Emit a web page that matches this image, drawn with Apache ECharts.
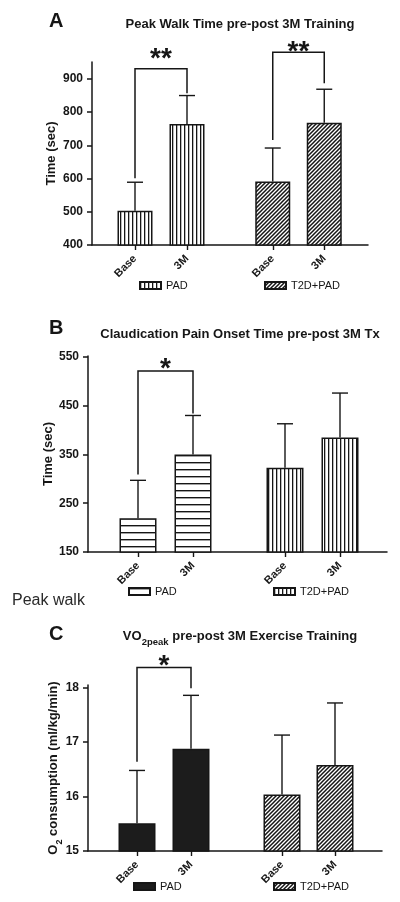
<!DOCTYPE html>
<html><head><meta charset="utf-8">
<script src="https://cdn.jsdelivr.net/npm/echarts@6/dist/echarts.min.js"></script>
<style>html,body{margin:0;padding:0;background:#fff}#c{width:400px;height:902px}</style>
</head><body><div id="c"></div>
<script>
// ---------- DATA ----------
const categories = ['Base', '3M'];
const groupNames = ['PAD', 'T2D+PAD'];

// Panel A: Peak walk time (sec)
const peakWalkPAD = [503, 764];
const peakWalkPADErr = [86, 86];
const peakWalkT2D = [591, 768];
const peakWalkT2DErr = [101, 101];
const peakWalkTicks = [400, 500, 600, 700, 800, 900];

// Panel B: Claudication pain onset time (sec)
const painOnsetPAD = [219, 350];
const painOnsetPADErr = [78, 80];
const painOnsetT2D = [323, 385];
const painOnsetT2DErr = [90, 91];
const painOnsetTicks = [150, 250, 350, 450, 550];

// Panel C: VO2peak (ml/kg/min)
const vo2PAD = [15.51, 16.88];
const vo2PADErr = [0.97, 0.98];
const vo2T2D = [16.04, 16.58];
const vo2T2DErr = [1.09, 1.14];
const vo2Ticks = [15, 16, 17, 18];

// Significance brackets: [bracket top, left leg end, right leg end, star y]
const bracketA_PAD = [931, 601, 857, 978];
const bracketA_T2D = [980, 716, 887, 999];
const bracketB_PAD = [521, 309, 434, 538];
const bracketC_PAD = [18.37, 16.64, 17.99, 18.5];

// ---------- PATTERNS ----------
function makePattern(w, h, draw) {
  const c = document.createElement('canvas');
  c.width = w; c.height = h;
  const g = c.getContext('2d');
  g.fillStyle = '#fff'; g.fillRect(0, 0, w, h);
  g.fillStyle = '#151515'; g.strokeStyle = '#151515';
  draw(g, w, h);
  return { image: c, repeat: 'repeat' };
}
const patVert = makePattern(4, 4, (g) => { g.fillRect(0, 0, 1.3, 4); });
const patHoriz = makePattern(7, 7, (g) => { g.fillRect(0, 0, 7, 1.4); });
const patDiag = makePattern(4, 4, (g) => {
  g.lineWidth = 1.5;
  g.beginPath();
  g.moveTo(-1, 5); g.lineTo(5, -1);
  g.moveTo(-3, 3); g.lineTo(3, -3);
  g.moveTo(1, 7); g.lineTo(7, 1);
  g.stroke();
});

// ---------- LAYOUT ----------
const FONT = "'Liberation Sans', Arial, Helvetica, sans-serif";
const INK = '#161616';

const panels = [
  {
    key: 'A', letter: 'A', title: 'Peak Walk Time pre-post 3M Training', titleTop: 18, letterTop: 11,
    main: { left: 92, width: 276, top: 62, height: 183 }, yMin: 400, yMax: 951, ticks: peakWalkTicks,
    yName: 'Time (sec)', nameGap: 34,
    pad: { left: 109, width: 104 }, t2d: { left: 247, width: 103 }, barW: 35,
    padData: peakWalkPAD, padErr: peakWalkPADErr, t2dData: peakWalkT2D, t2dErr: peakWalkT2DErr,
    padFill: patVert, t2dFill: patDiag,
    brackets: [{ grp: 'pad', b: bracketA_PAD, stars: '**' }, { grp: 't2d', b: bracketA_T2D, stars: '**' }],
    legendTop: 280, padLegLeft: 139, t2dLegLeft: 264
  },
  {
    key: 'B', letter: 'B', title: 'Claudication Pain Onset Time pre-post 3M Tx', titleTop: 328, letterTop: 318,
    main: { left: 88, width: 299, top: 356, height: 196 }, yMin: 150, yMax: 552, ticks: painOnsetTicks,
    yName: 'Time (sec)', nameGap: 33,
    pad: { left: 110.5, width: 110 }, t2d: { left: 257.5, width: 110 }, barW: 37,
    padData: painOnsetPAD, padErr: painOnsetPADErr, t2dData: painOnsetT2D, t2dErr: painOnsetT2DErr,
    padFill: patHoriz, t2dFill: patVert,
    brackets: [{ grp: 'pad', b: bracketB_PAD, stars: '*' }],
    legendTop: 586, padLegLeft: 128, t2dLegLeft: 273
  },
  {
    key: 'C', letter: 'C', title: null, titleTop: 629, letterTop: 624,
    main: { left: 88, width: 294, top: 685, height: 166 }, yMin: 15, yMax: 18.05, ticks: vo2Ticks,
    yName: '{a|O}{s|2}{a| consumption (ml/kg/min)}', nameGap: 24,
    pad: { left: 110, width: 108 }, t2d: { left: 255.5, width: 106 }, barW: 37,
    padData: vo2PAD, padErr: vo2PADErr, t2dData: vo2T2D, t2dErr: vo2T2DErr,
    padFill: '#1c1c1c', t2dFill: patDiag,
    brackets: [{ grp: 'pad', b: bracketC_PAD, stars: '*' }],
    legendTop: 881, padLegLeft: 133, t2dLegLeft: 273
  }
];

const grid = [], xAxis = [], yAxis = [], series = [], legend = [], title = [];

function errRender(params, api) {
  const x = api.value(0), m = api.value(1), e = api.value(2);
  const p0 = api.coord([x, m]);
  const p1 = api.coord([x, m + e]);
  const st = { stroke: INK, lineWidth: 1.4, fill: null };
  return {
    type: 'group', children: [
      { type: 'line', shape: { x1: p0[0], y1: p0[1], x2: p1[0], y2: p1[1] }, style: st },
      { type: 'line', shape: { x1: p1[0] - 8, y1: p1[1], x2: p1[0] + 8, y2: p1[1] }, style: st }
    ]
  };
}

function bracketRender(stars) {
  return function (params, api) {
    const top = api.value(0), l = api.value(1), r = api.value(2), sy = api.value(3);
    const pL = api.coord([0, l]), pLT = api.coord([0, top]);
    const pR = api.coord([1, r]), pRT = api.coord([1, top]);
    const ps = api.coord([0.5, sy]);
    return {
      type: 'group', children: [
        { type: 'polyline', shape: { points: [pL, pLT, pRT, pR] }, style: { stroke: INK, lineWidth: 1.5, fill: null } },
        { type: 'text', x: (pLT[0] + pRT[0]) / 2, y: ps[1] + 6,
          style: { text: stars, font: 'bold 28px ' + FONT, fill: INK, align: 'center', verticalAlign: 'middle' } }
      ]
    };
  };
}

panels.forEach((p, pi) => {
  const gMain = grid.length;
  grid.push({ left: p.main.left, width: p.main.width, top: p.main.top, height: p.main.height, outerBoundsMode: 'none', containLabel: false });
  const gPad = grid.length;
  grid.push({ left: p.pad.left, width: p.pad.width, top: p.main.top, height: p.main.height, outerBoundsMode: 'none', containLabel: false });
  const gT2d = grid.length;
  grid.push({ left: p.t2d.left, width: p.t2d.width, top: p.main.top, height: p.main.height, outerBoundsMode: 'none', containLabel: false });

  xAxis.push({
    gridIndex: gMain, type: 'category', data: [''],
    axisLine: { show: true, onZero: false, lineStyle: { color: INK, width: 1.5 } },
    axisTick: { show: false }, axisLabel: { show: false }, splitLine: { show: false }
  });
  const nameRich = {
    a: { fontFamily: FONT, fontSize: 13, fontWeight: 'bold', color: INK, lineHeight: 15, verticalAlign: 'top' },
    s: { fontFamily: FONT, fontSize: 9, fontWeight: 'bold', color: INK, lineHeight: 17, verticalAlign: 'bottom' }
  };
  yAxis.push({
    gridIndex: gMain, type: 'value', min: p.yMin, max: p.yMax,
    name: p.yName, nameLocation: 'middle', nameGap: p.nameGap, nameMoveOverlap: false,
    nameTextStyle: { fontFamily: FONT, fontSize: 13, fontWeight: 'bold', color: INK, rich: nameRich },
    axisLine: { show: true, lineStyle: { color: INK, width: 1.5 } },
    axisTick: { show: true, length: 5, customValues: p.ticks, lineStyle: { color: INK, width: 1.5 } },
    axisLabel: { customValues: p.ticks, fontFamily: FONT, fontSize: 12, fontWeight: 'bold', color: INK, margin: 9 },
    splitLine: { show: false }
  });

  [gPad, gT2d].forEach(g => {
    xAxis.push({
      gridIndex: g, type: 'category', data: categories,
      axisLine: { show: false, onZero: false },
      axisTick: { show: true, alignWithLabel: true, length: 5, lineStyle: { color: INK, width: 1.4 } },
      axisLabel: { interval: 0, rotate: 45, margin: 12, fontFamily: FONT, fontSize: 11, fontWeight: 'bold', color: INK },
      splitLine: { show: false }
    });
    yAxis.push({ gridIndex: g, type: 'value', min: p.yMin, max: p.yMax, show: false, splitLine: { show: false } });
  });

  const groups = [
    { g: gPad, name: groupNames[0] + '#' + p.key, data: p.padData, err: p.padErr, fill: p.padFill, legLeft: p.padLegLeft },
    { g: gT2d, name: groupNames[1] + '#' + p.key, data: p.t2dData, err: p.t2dErr, fill: p.t2dFill, legLeft: p.t2dLegLeft }
  ];
  groups.forEach(gr => {
    series.push({
      type: 'bar', name: gr.name, xAxisIndex: gr.g, yAxisIndex: gr.g,
      data: gr.data, barWidth: p.barW,
      itemStyle: { color: gr.fill, borderColor: INK, borderWidth: 1.5 },
      emphasis: { disabled: true }, silent: true, z: 2
    });
    series.push({
      type: 'custom', xAxisIndex: gr.g, yAxisIndex: gr.g, clip: false, silent: true, z: 3,
      renderItem: errRender,
      data: categories.map((c, i) => [c, gr.data[i], gr.err[i]])
    });
    legend.push({
      data: [gr.name], left: gr.legLeft, top: p.legendTop, padding: 0,
      icon: 'rect', itemWidth: 21, itemHeight: 7, selectedMode: false,
      formatter: n => n.split('#')[0],
      textStyle: { fontFamily: FONT, fontSize: 11, color: INK }
    });
  });

  p.brackets.forEach(br => {
    const g = br.grp === 'pad' ? gPad : gT2d;
    series.push({
      type: 'custom', xAxisIndex: g, yAxisIndex: g, clip: false, silent: true, z: 4,
      renderItem: bracketRender(br.stars),
      encode: { x: [], y: [0, 1, 2, 3] },
      data: [br.b]
    });
  });

  title.push({ text: p.letter, left: 49, top: p.letterTop, padding: 0,
    textStyle: { fontFamily: FONT, fontSize: 20, fontWeight: 'bold', color: INK } });
  if (p.title) {
    title.push({ text: p.title, left: 240, top: p.titleTop, textAlign: 'center', padding: 0,
      textStyle: { fontFamily: FONT, fontSize: 13, fontWeight: 'bold', color: INK } });
  }
});

// Panel C title with subscript
title.push({
  text: '{a|VO}{s|2peak}{a| pre-post 3M Exercise Training}', left: 240, top: 630, textAlign: 'center', padding: 0,
  textStyle: {
    rich: {
      a: { fontFamily: FONT, fontSize: 13, fontWeight: 'bold', color: INK, lineHeight: 15, verticalAlign: 'top' },
      s: { fontFamily: FONT, fontSize: 9.5, fontWeight: 'bold', color: INK, lineHeight: 17, verticalAlign: 'bottom' }
    }
  }
});
// Stray caption text
title.push({ text: 'Peak walk', left: 12, top: 593, padding: 0,
  textStyle: { fontFamily: FONT, fontSize: 16, fontWeight: 'normal', color: '#2a2a2a' } });

const chart = echarts.init(document.getElementById('c'), null, { renderer: 'canvas' });
chart.setOption({
  animation: false,
  backgroundColor: '#fff',
  title, grid, xAxis, yAxis, series, legend
});
</script>
</body></html>
